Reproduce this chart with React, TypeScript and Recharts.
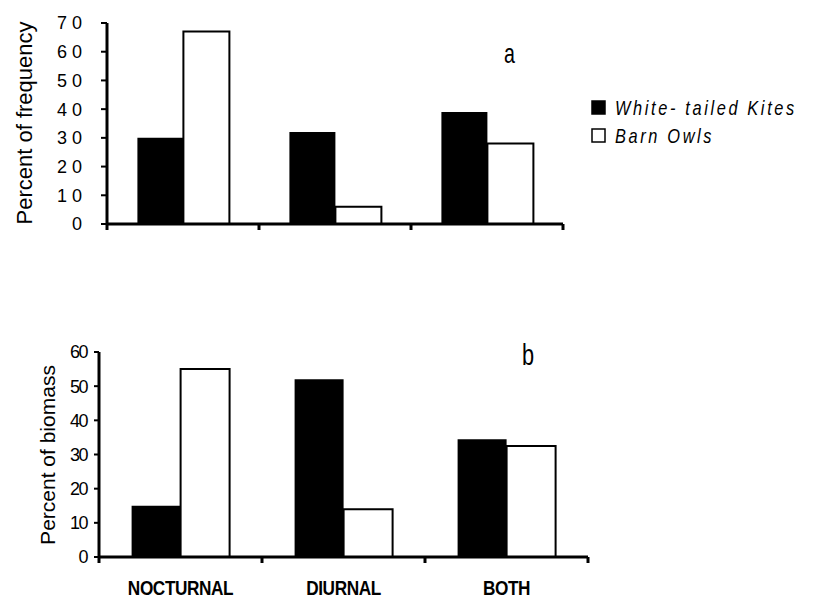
import { BarChart, Bar, XAxis, YAxis } from "recharts";

// ─── Data ────────────────────────────────────────────────────────────────

const categories = ["NOCTURNAL", "DIURNAL", "BOTH"];
const kitesFrequency = [30, 32, 39];
const owlsFrequency = [67, 6, 28];
const kitesBiomass = [15, 52, 34.5];
const owlsBiomass = [55, 14, 32.5];

const frequencyTicks = [0, 10, 20, 30, 40, 50, 60, 70];
const biomassTicks = [0, 10, 20, 30, 40, 50, 60];

const series = [
  { key: "kites", name: "White- tailed Kites", fill: "#000" },
  { key: "owls", name: "Barn Owls", fill: "#fff" },
];

const frequencyData = categories.map((c, i) => ({ category: c, kites: kitesFrequency[i], owls: owlsFrequency[i] }));
const biomassData = categories.map((c, i) => ({ category: c, kites: kitesBiomass[i], owls: owlsBiomass[i] }));

// ─── Styles ──────────────────────────────────────────────────────────────

const sans = "'Liberation Sans', Arial, sans-serif";
const axisLine = { stroke: "#000", strokeWidth: 3 };
const tickLine = { stroke: "#000", strokeWidth: 2 };

// category label at band centre, tick marks on the band edges
function CategoryTick(props: any) {
  const { x, y, payload, index, band, showLabel } = props;
  const half = band / 2;
  return (
    <g>
      <line x1={x - half} x2={x - half} y1={y} y2={y + 6} stroke="#000" strokeWidth={3} />
      {index === categories.length - 1 && (
        <line x1={x + half} x2={x + half} y1={y} y2={y + 6} stroke="#000" strokeWidth={3} />
      )}
      {showLabel && (
        <text transform={`translate(${x},${y + 38}) scale(0.82,1)`} textAnchor="middle" fill="#000" fontFamily={sans} fontSize={21} fontWeight={700} letterSpacing={-0.5}>
          {payload.value}
        </text>
      )}
    </g>
  );
}

function Bars() {
  return series.map((s) => (
    <Bar key={s.key} dataKey={s.key} name={s.name} fill={s.fill} stroke={s.fill === "#fff" ? "#000" : "none"} strokeWidth={2} isAnimationActive={false} />
  ));
}

export default function App() {
  return (
    <div style={{ position: "absolute", left: 0, top: 0, width: 831, height: 599, background: "#fff" }}>
      {/* ─── a: frequency ─── */}
      <div style={{ position: "absolute", left: 0, top: 0 }}>
        <BarChart width={831} height={250} data={frequencyData} margin={{ top: 23, right: 268, bottom: 0, left: 0 }} barCategoryGap="20%" barGap={0}>
          <XAxis
            dataKey="category"
            height={26}
            axisLine={axisLine}
            tickLine={false}
            tickSize={0}
            tickMargin={0}
            interval={0}
            tick={(p: any) => <CategoryTick {...p} band={152} showLabel={false} />}
          />
          <YAxis
            domain={[0, 70]}
            ticks={frequencyTicks}
            width={107}
            stroke="#000"
            axisLine={axisLine}
            tickLine={tickLine}
            tickSize={6}
            tickMargin={14}
            tick={{ fill: "#000", fontSize: 18, fontFamily: sans, letterSpacing: 5 }}
          />
          {Bars()}
        </BarChart>
      </div>

      {/* ─── b: biomass ─── */}
      <div style={{ position: "absolute", left: 0, top: 300 }}>
        <BarChart width={831} height={299} data={biomassData} margin={{ top: 52, right: 243, bottom: 0, left: 0 }} barCategoryGap="20%" barGap={0}>
          <XAxis
            dataKey="category"
            height={42}
            axisLine={axisLine}
            tickLine={false}
            tickSize={0}
            tickMargin={0}
            interval={0}
            tick={(p: any) => <CategoryTick {...p} band={163} showLabel />}
          />
          <YAxis
            domain={[0, 60]}
            ticks={biomassTicks}
            width={99}
            stroke="#000"
            axisLine={axisLine}
            tickLine={tickLine}
            tickSize={5}
            tickMargin={7}
            tick={{ fill: "#000", fontSize: 18, fontFamily: sans, letterSpacing: -1.5 }}
          />
          {Bars()}
        </BarChart>
      </div>

      {/* ─── titles, axis labels, legend ─── */}
      <svg width={831} height={599} style={{ position: "absolute", left: 0, top: 0, pointerEvents: "none" }}>
        <text transform="translate(32,123) rotate(-90)" textAnchor="middle" fontFamily={sans} fontSize={22} fill="#000">
          Percent of frequency
        </text>
        <text transform="translate(55,455) rotate(-90)" textAnchor="middle" fontFamily={sans} fontSize={21} fill="#000">
          Percent of biomass
        </text>
        <text transform="translate(504,63) scale(0.7,1)" fontFamily={sans} fontSize={28} fill="#000">a</text>
        <text transform="translate(522,365) scale(0.75,1)" fontFamily={sans} fontSize={29} fill="#000">b</text>
        {series.map((s, i) => (
          <g key={s.key}>
            <rect x={592} y={101 + i * 28} width={13} height={13} fill={s.fill} stroke="#000" strokeWidth={1.5} />
            <text transform={`translate(615,${115 + i * 28}) scale(0.82,1)`} fontFamily={sans} fontStyle="italic" fontSize={20} letterSpacing={3.2} fill="#000">
              {s.name}
            </text>
          </g>
        ))}
      </svg>
    </div>
  );
}
